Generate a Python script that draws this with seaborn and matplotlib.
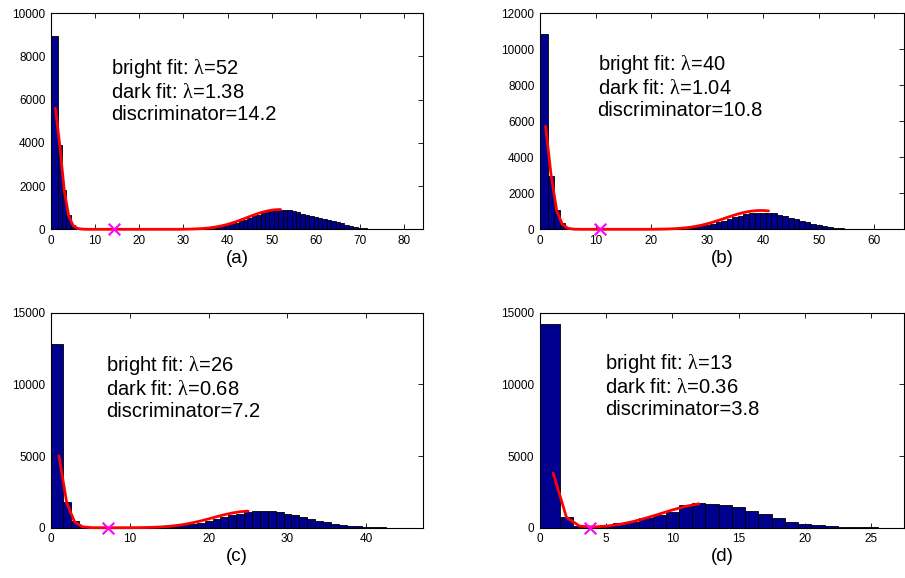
import numpy as np
import pandas as pd
import matplotlib
matplotlib.use("Agg")
import matplotlib.pyplot as plt
import seaborn as sns

# histogram counts: first value is the wide bin [0, 1.5), the rest are unit bins centred on 2, 3, 4, ...
counts_a = [8950,
            3900, 1800, 650, 200, 50, 10,
            0, 0, 0, 0, 0, 0, 0, 0, 0, 0, 0, 0, 0, 0, 0, 0, 0, 0, 0, 0, 0, 0, 0, 0, 0, 0, 0, 0,
            30, 60, 90, 130, 180, 240, 300, 370, 440, 520, 600, 670, 740, 800, 840, 870, 880,
            890, 880, 850, 800, 700, 650, 610, 580, 540, 480, 420, 370, 320, 270, 210, 160, 120, 80, 40, 20,
            15, 10, 8, 5, 5, 4, 3, 3, 2, 2, 2]
counts_b = [10850,
            2950, 1050, 350, 80, 15, 3,
            0, 0, 0, 0, 0, 0, 0, 0, 0, 0, 0, 0, 0, 0, 0, 0, 0,
            15, 30, 60, 100, 160, 230, 300, 380, 470, 560, 660, 750, 840, 900, 930, 930,
            920, 880, 820, 740, 650, 560, 470, 380, 300, 230, 170, 120, 80, 50, 20, 10,
            5, 3, 2, 1, 1, 1, 0, 0, 0]
counts_c = [12850,
            1800, 450, 100, 20, 3,
            0, 0, 0, 0, 0, 0, 0,
            20, 50, 100, 170, 260, 360, 480, 600, 730, 860, 980, 1090, 1170, 1180, 1150, 1080, 990,
            870, 750, 620, 500, 390, 290, 210, 140, 90, 50, 30, 15, 8, 5, 3, 2, 1]
counts_d = [14200,
            720, 110, 60, 200, 300, 420, 650, 900, 1120, 1580, 1700, 1650, 1560, 1420, 1190,
            930, 650, 370, 280, 210, 140, 80, 40, 20, 10, 5]

# fitted curves, sampled at x = 1, 2, 3, ...
fit_a = [5600, 3850, 1780, 620, 170, 40, 10, 2,
         0, 0, 0, 0, 0, 0, 0, 0, 0, 0, 0, 0, 0, 0, 0, 0, 0, 0, 0, 0, 0,
         5, 8, 13, 21, 32, 47, 68, 96, 131, 175, 227, 288, 356, 431, 509, 588, 664, 735, 797, 845,
         885, 905, 915]
fit_b = [5720, 2975, 1030, 270, 56, 10, 2,
         0, 0, 0, 0, 0, 0, 0, 0, 0, 0, 0, 0,
         3, 6, 11, 19, 32, 51, 78, 116, 166, 229, 305, 394, 492, 596, 701, 802, 889, 962, 1012,
         1040, 1045, 1020]
fit_c = [5020, 1710, 390, 66, 9, 1, 0, 0, 0,
         3, 7, 15, 30, 56, 97, 157, 240, 348, 475, 616, 766, 908, 1026, 1117, 1160]
fit_d = [3800, 720, 110, 50, 110, 230, 420, 670, 950, 1240, 1490, 1670]

panel_labels = ["(a)", "(b)", "(c)", "(d)"]
bright_lam = ["52", "40", "26", "13"]
dark_lam = ["1.38", "1.04", "0.68", "0.36"]
discriminator = [14.2, 10.8, 7.2, 3.8]

x_max = [84.3, 65.3, 47.2, 27.5]
y_max = [10000, 12000, 15000, 15000]
x_step = [10, 10, 10, 5]
y_step = [2000, 2000, 5000, 5000]

sns.set_theme(style="ticks", rc={"text.color": "black", "axes.labelcolor": "black",
                                 "xtick.color": "black", "ytick.color": "black"})
plt.rcParams["font.family"] = ["Liberation Sans", "DejaVu Sans"]
plt.rcParams["mathtext.fontset"] = "custom"
plt.rcParams["mathtext.rm"] = "Liberation Serif"

fig = plt.figure(figsize=(9.05, 5.78), dpi=100)

# axes boxes in figure fractions
boxes = [
    [0.0564, 0.6033, 0.4110, 0.3742],
    [0.5967, 0.6033, 0.4022, 0.3742],
    [0.0564, 0.0870, 0.4110, 0.3720],
    [0.5967, 0.0870, 0.4022, 0.3720],
]
text_pos = [(0.161, 0.644), (0.158, 0.662), (0.148, 0.651), (0.178, 0.660)]

all_counts = [counts_a, counts_b, counts_c, counts_d]
all_fits = [fit_a, fit_b, fit_c, fit_d]

for i in range(4):
    ax = fig.add_axes(boxes[i])
    counts = np.array(all_counts[i], dtype=float)
    edges = np.concatenate([[0.0], 1.5 + np.arange(len(counts))])
    hist_df = pd.DataFrame({"x": (edges[:-1] + edges[1:]) / 2, "n": counts})

    sns.histplot(data=hist_df, x="x", weights="n", bins=list(edges), ax=ax,
                 color="#00008F", edgecolor="black", linewidth=0.6, alpha=1)

    fit = all_fits[i]
    fit_df = pd.DataFrame({"x": np.arange(1, len(fit) + 1), "y": fit})
    sns.lineplot(data=fit_df, x="x", y="y", ax=ax, color="red", linewidth=2.0,
                 clip_on=False, zorder=3)

    sns.scatterplot(x=[discriminator[i]], y=[0], ax=ax, marker="x", color="magenta",
                    s=70, linewidth=1.5, clip_on=False, zorder=4)

    ax.set_xlim(0, x_max[i])
    ax.set_ylim(0, y_max[i])
    ax.set_xticks(np.arange(0, x_max[i], x_step[i]))
    ax.set_yticks(np.arange(0, y_max[i] + 1, y_step[i]))
    ax.tick_params(direction="in", top=True, right=True, length=3.5, width=0.6,
                   labelsize=8.5, pad=4, colors="black")
    for sp in ax.spines.values():
        sp.set_visible(True)
        sp.set_color("black")
        sp.set_linewidth(0.8)

    ax.set_ylabel("")
    ax.set_xlabel(panel_labels[i], fontsize=13.5, labelpad=2)

    txt = ("bright fit: $\\mathrm{\\lambda}$=" + bright_lam[i] + "\n"
           + "dark fit: $\\mathrm{\\lambda}$=" + dark_lam[i] + "\n"
           + "discriminator=" + str(discriminator[i]))
    ax.text(text_pos[i][0], text_pos[i][1], txt, transform=ax.transAxes,
            fontsize=14.5, va="center", ha="left", linespacing=1.2, color="black")

fig.savefig("out.png", dpi=100)
